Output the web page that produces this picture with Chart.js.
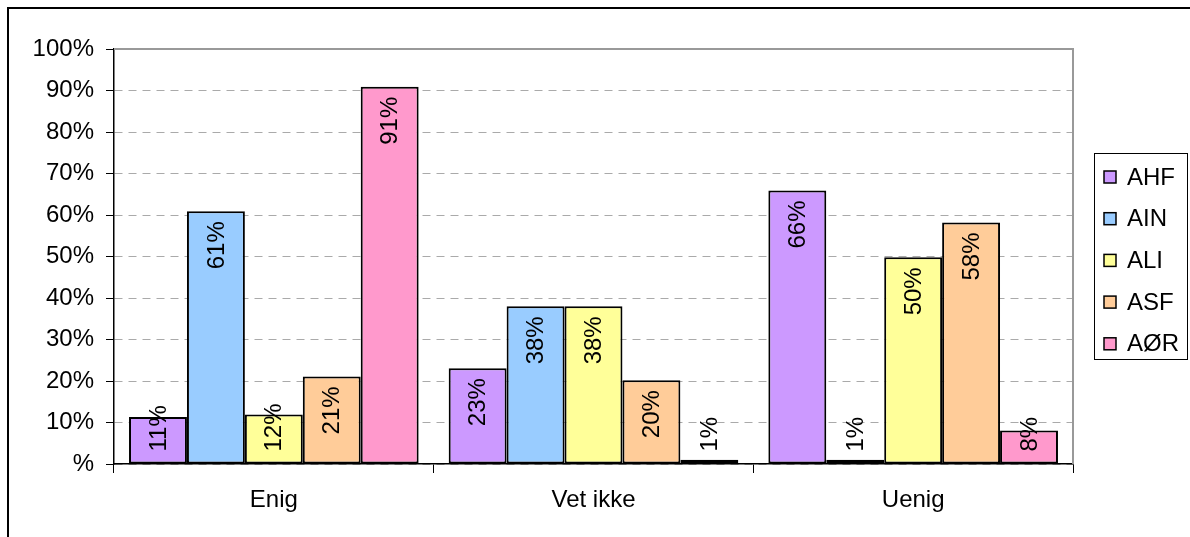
<!DOCTYPE html>
<html>
<head>
<meta charset="utf-8">
<script src="https://cdn.jsdelivr.net/npm/chart.js@4/dist/chart.umd.min.js"></script>
<style>
  html, body { margin: 0; padding: 0; background: #fff; }
  #wrap { width: 1190px; height: 537px; }
</style>
</head>
<body>
<div id="wrap"><canvas id="myChart" width="1190" height="537"></canvas></div>
<script>
const categories = ['Enig', 'Vet ikke', 'Uenig'];
const seriesNames = ['AHF', 'AIN', 'ALI', 'ASF', 'AØR'];
const ahf = [11.3, 23.1, 65.9];
const ain = [60.9, 38.0, 1.0];
const ali = [11.9, 38.0, 49.8];
const asf = [21.1, 20.2, 58.2];
const aor = [90.9, 1.0, 8.1];
const colors = ['#CC99FF', '#99CCFF', '#FFFF99', '#FFCC99', '#FF99CC'];

const FONT = '"Liberation Sans", Arial, sans-serif';
const FS = 24;

// outer frame + plot border
const framePlugin = {
    id: 'frame',
    beforeDraw(chart) {
        const ctx = chart.ctx;
        ctx.save();
        ctx.fillStyle = '#fff';
        ctx.fillRect(0, 0, chart.width, chart.height);
        ctx.strokeStyle = '#000';
        ctx.lineWidth = 2;
        ctx.strokeRect(8, 8, chart.width + 20, chart.height + 20);
        ctx.restore();
    },
    beforeDatasetsDraw(chart) {
        const a = chart.chartArea;
        const ctx = chart.ctx;
        ctx.save();
        ctx.strokeStyle = '#999';
        ctx.lineWidth = 2;
        ctx.beginPath();
        ctx.moveTo(a.left, a.top);
        ctx.lineTo(a.right, a.top);
        ctx.lineTo(a.right, a.bottom);
        ctx.stroke();
        ctx.restore();
    }
};

// rotated value labels inside the bars
const labelPlugin = {
    id: 'barLabels',
    afterDatasetsDraw(chart) {
        const ctx = chart.ctx;
        ctx.save();
        ctx.font = FS + 'px ' + FONT;
        ctx.fillStyle = '#000';
        ctx.textAlign = 'center';
        ctx.textBaseline = 'middle';
        chart.data.datasets.forEach((ds, i) => {
            chart.getDatasetMeta(i).data.forEach((bar, j) => {
                const txt = Math.round(ds.data[j]) + '%';
                const w = ctx.measureText(txt).width;
                const top = Math.min(bar.y + 10, bar.base - 12 - w);
                ctx.save();
                ctx.translate(bar.x + 1, top + w / 2);
                ctx.rotate(-Math.PI / 2);
                ctx.fillText(txt, 0, 0);
                ctx.restore();
            });
        });
        ctx.restore();
    }
};

// legend box on the right
const legendPlugin = {
    id: 'boxLegend',
    afterDraw(chart) {
        const ctx = chart.ctx;
        ctx.save();
        ctx.strokeStyle = '#000';
        ctx.lineWidth = 1;
        ctx.strokeRect(1094.5, 153.5, 93, 206);
        ctx.font = FS + 'px ' + FONT;
        ctx.textBaseline = 'middle';
        chart.data.datasets.forEach((ds, i) => {
            const cy = 177 + i * 41.7;
            ctx.fillStyle = ds.backgroundColor;
            ctx.fillRect(1104, cy - 6, 12, 12);
            ctx.lineWidth = 1.5;
            ctx.strokeRect(1104, cy - 6, 12, 12);
            ctx.fillStyle = '#000';
            ctx.fillText(ds.label, 1127, cy + 1);
        });
        ctx.restore();
    }
};

const seriesData = [ahf, ain, ali, asf, aor];

const ctx = document.getElementById('myChart').getContext('2d');
const myChart = new Chart(ctx, {
    type: 'bar',
    data: {
        labels: categories,
        datasets: seriesNames.map((name, i) => ({
            label: name,
            data: seriesData[i],
            backgroundColor: colors[i],
            borderColor: '#000',
            borderWidth: 2,
            borderSkipped: false,
            categoryPercentage: 0.906,
            barPercentage: 1.0
        }))
    },
    options: {
        responsive: false,
        animation: false,
        layout: { padding: { top: 49, right: 117, left: 0, bottom: 0 } },
        plugins: {
            legend: { display: false },
            tooltip: { enabled: false }
        },
        scales: {
            x: {
                afterFit: (s) => { s.height = 73; },
                grid: {
                    offset: true,
                    drawOnChartArea: false,
                    drawTicks: true,
                    tickLength: 9,
                    tickColor: '#000'
                },
                border: { color: '#000', width: 1.5 },
                ticks: { color: '#000', font: { family: FONT, size: FS }, padding: 13 }
            },
            y: {
                min: 0,
                max: 100,
                afterFit: (s) => { s.width = 114; },
                grid: {
                    color: '#aaa',
                    lineWidth: 1,
                    tickColor: '#000',
                    tickLength: 8,
                    tickBorderDash: []
                },
                border: { color: '#000', width: 1.5, dash: [8, 6] },
                ticks: {
                    stepSize: 10,
                    color: '#000',
                    padding: 12,
                    font: { family: FONT, size: FS },
                    callback: (v) => v === 0 ? '%' : v + '%'
                }
            }
        }
    },
    plugins: [framePlugin, labelPlugin, legendPlugin]
});
</script>
</body>
</html>
